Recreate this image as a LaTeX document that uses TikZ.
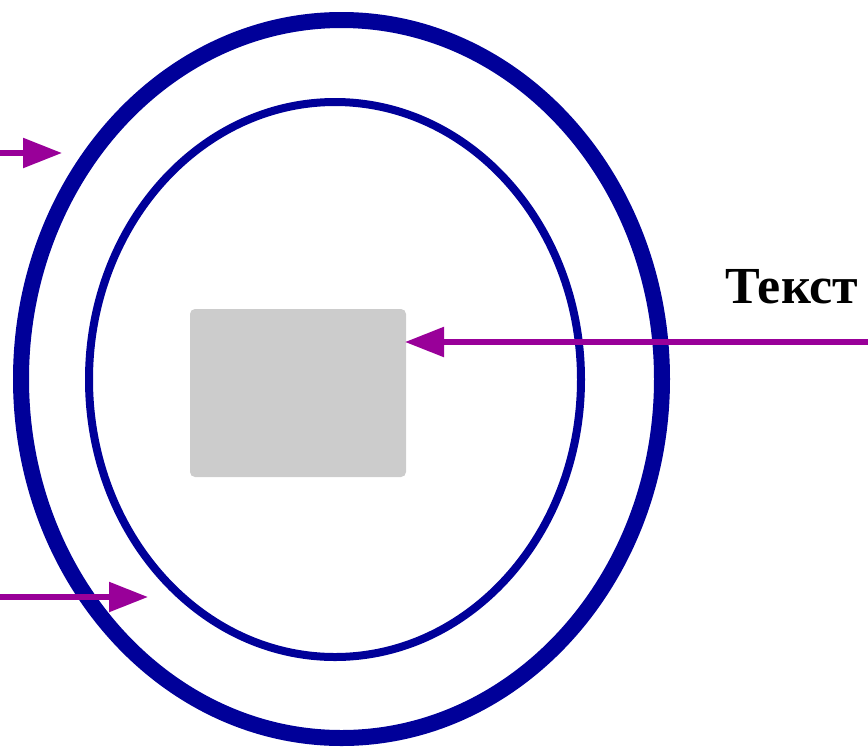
\documentclass[tikz,border=0pt]{standalone}
\usepackage{fontspec}
\setmainfont{Liberation Serif}
\usetikzlibrary{arrows.meta}
\definecolor{ringblue}{HTML}{000099}
\definecolor{arrowpurple}{HTML}{990099}
\definecolor{boxgray}{HTML}{CCCCCC}
\tikzset{
  outerring/.style={draw=ringblue, line width=16pt},
  innerring/.style={draw=ringblue, line width=8pt},
  pointer/.style={draw=arrowpurple, line width=5.5pt,
    -{Triangle[length=39pt,width=29pt,fill=arrowpurple]}},
  graybox/.style={fill=boxgray, draw=none, rounded corners=5pt},
  label/.style={font=\bfseries\fontsize{52}{60}\selectfont, inner sep=0pt, anchor=base west}
}
\begin{document}
\begin{tikzpicture}[x=1pt,y=-1pt]
\useasboundingbox (0,0) rectangle (868,748);
\draw[outerring] (341.5,379) ellipse [x radius=320.5, y radius=359];
\draw[innerring] (335,379.5) ellipse [x radius=246, y radius=277.5];
\fill[graybox] (190,309) rectangle (406,477);
\node[inner sep=0pt, minimum width=216pt, minimum height=168pt] (box) at (298,393) {};
\coordinate (s1) at (-5,153);
\coordinate (t1) at (62,153);
\coordinate (s2) at (-5,597);
\coordinate (t2) at (148,597);
\coordinate (s3) at (873,342);
\coordinate (t3) at (405,342);
\draw[pointer] (s1) -- (t1);
\draw[pointer] (s2) -- (t2);
\draw[pointer] (s3) -- (t3);
\node[label] (txt) at (725,303) {Текст};
\end{tikzpicture}
\end{document}
